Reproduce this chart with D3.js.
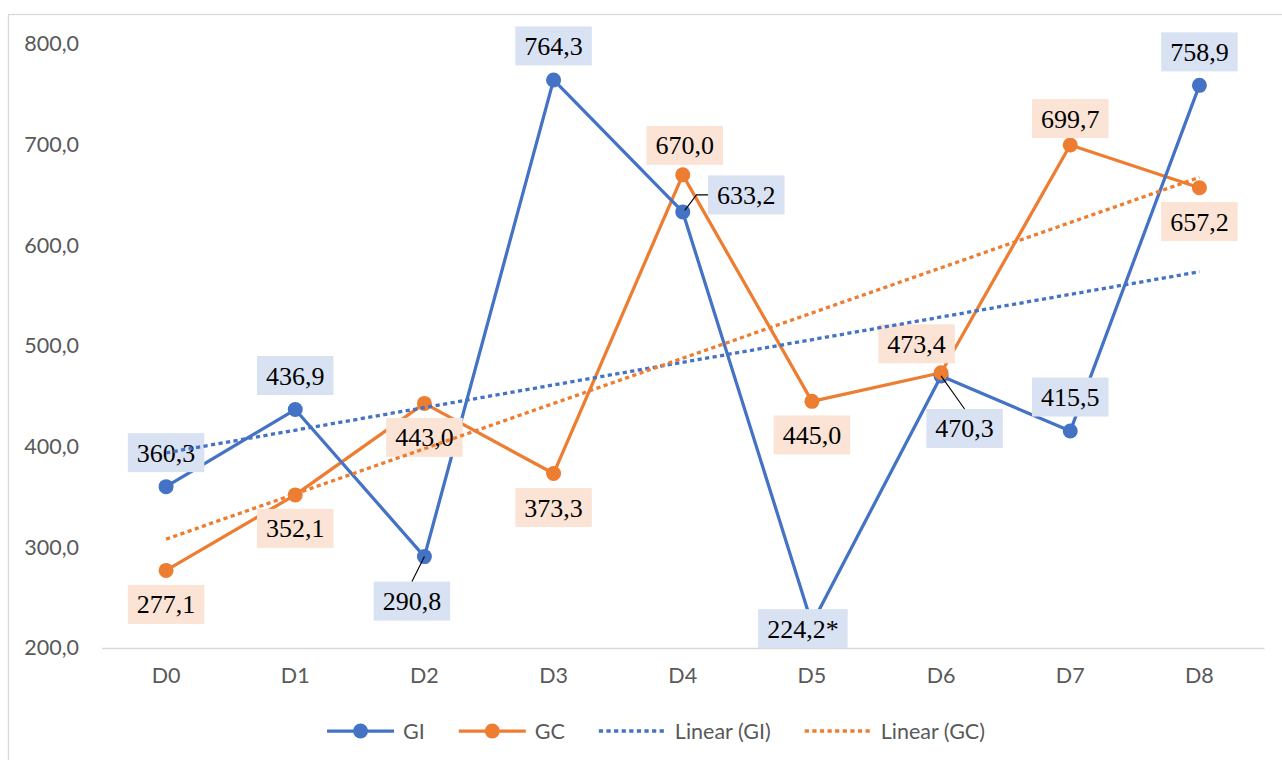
<!DOCTYPE html>
<html>
<head>
<meta charset="utf-8">
<script src="https://cdn.jsdelivr.net/npm/d3@7"></script>
<style>
  html, body { margin: 0; padding: 0; background: #ffffff; }
  svg { display: block; }
</style>
</head>
<body>
<svg id="chart" width="1282" height="760"></svg>
<script>
// Measurements per day
const categories = ["D0", "D1", "D2", "D3", "D4", "D5", "D6", "D7", "D8"];
const giValues = [360.3, 436.9, 290.8, 764.3, 633.2, 224.2, 470.3, 415.5, 758.9];
const gcValues = [277.1, 352.1, 443.0, 373.3, 670.0, 445.0, 473.4, 699.7, 657.2];
// Footnote marks appended to individual value labels
const giMarks = ["", "", "", "", "", "*", "", "", ""];
const gcMarks = ["", "", "", "", "", "", "", "", ""];
const yTicks = [200, 300, 400, 500, 600, 700, 800];
const seriesNames = ["GI", "GC"];

// Label placement relative to each point: [dx, dy] of the box centre, and leader style
const giLabelPlace = [
  [0, -34, null], [0, -34, null], [-12.5, 44.5, "top"], [0, -34, null], [63.5, -17, "elbow"],
  [-9, 5, null], [23.5, 52.6, "top"], [0, -34, null], [0, -33.5, null]
];
const gcLabelPlace = [
  [0, 34, null], [0, 33.5, null], [0, 34, null], [0, 34, null], [2, -29.5, null],
  [0, 33.6, null], [-24.5, -29, null], [0, -26.4, null], [0, 33.8, null]
];

const BLUE = "#4472C4", ORANGE = "#ED7D31";
const BLUE_BOX = "#D9E2F3", ORANGE_BOX = "#FBE4D5";
const AXIS_FONT = "Lato, 'Open Sans', sans-serif";
const LABEL_FONT = "'Liberation Serif', 'Times New Roman', serif";

const svg = d3.select("#chart");

// Chart area outline
svg.append("rect")
  .attr("x", 8.5).attr("y", 14.5)
  .attr("width", 1320).attr("height", 800)
  .attr("fill", "#ffffff").attr("stroke", "#D9D9D9").attr("stroke-width", 1.3);

const x = d3.scaleBand().domain(categories).range([101.5, 1264]).padding(0);
const y = d3.scaleLinear().domain([200, 800]).range([648, 44]);
const cx = d => x(d) + x.bandwidth() / 2;

// Decimal comma formatting
const locale = d3.formatLocale({ decimal: ",", thousands: ".", grouping: [3], currency: ["", ""] });
const fmt = locale.format(".1f");

// Y axis: labels only
const yAxis = d3.axisLeft(y).tickValues(yTicks).tickFormat(fmt).tickSize(0).tickPadding(0);
const yg = svg.append("g").attr("transform", "translate(79,0)").call(yAxis);
yg.select(".domain").remove();
yg.selectAll("text")
  .attr("font-family", AXIS_FONT).attr("font-size", 21.5).attr("fill", "#595959");

// X axis: baseline and category labels
const xAxis = d3.axisBottom(x).tickSize(0).tickPadding(20);
const xg = svg.append("g").attr("transform", "translate(0,648)").call(xAxis);
xg.select(".domain").attr("stroke", "#D9D9D9").attr("stroke-width", 1.5);
xg.selectAll("text")
  .attr("font-family", AXIS_FONT).attr("font-size", 21.5).attr("fill", "#595959");

const giPts = categories.map((c, i) => ({ c, v: giValues[i], m: giMarks[i], p: giLabelPlace[i] }));
const gcPts = categories.map((c, i) => ({ c, v: gcValues[i], m: gcMarks[i], p: gcLabelPlace[i] }));

const line = d3.line().x(d => cx(d.c)).y(d => y(d.v));

// Series lines
svg.append("path").datum(gcPts).attr("d", line)
  .attr("fill", "none").attr("stroke", ORANGE).attr("stroke-width", 3.25).attr("stroke-linejoin", "round");
svg.append("path").datum(giPts).attr("d", line)
  .attr("fill", "none").attr("stroke", BLUE).attr("stroke-width", 3.25).attr("stroke-linejoin", "round");

// Markers
function markers(pts, color) {
  svg.append("g").selectAll("circle").data(pts).join("circle")
    .attr("cx", d => cx(d.c)).attr("cy", d => y(d.v)).attr("r", 7.5)
    .attr("fill", color);
}
markers(giPts, BLUE);
markers(gcPts, ORANGE);

// Value labels in shaded boxes
function valueLabels(pts, boxColor) {
  const g = svg.append("g");
  pts.forEach(d => {
    const px = cx(d.c), py = y(d.v);
    const bx = px + d.p[0], by = py + d.p[1];
    const t = g.append("text")
      .attr("x", bx).attr("y", by + 9)
      .attr("text-anchor", "middle")
      .attr("font-family", LABEL_FONT).attr("font-size", 26).attr("fill", "#000000")
      .text(fmt(d.v) + d.m);
    const w = t.node().getComputedTextLength() + 18;
    const h = 39;
    g.insert("rect", "text")
      .attr("x", bx - w / 2).attr("y", by - h / 2)
      .attr("width", w).attr("height", h)
      .attr("fill", boxColor);
    d.box = { x: bx, y: by, w, h, px, py };
  });
}
valueLabels(giPts, BLUE_BOX);
valueLabels(gcPts, ORANGE_BOX);

// Leader lines from displaced labels back to their points
const leaders = svg.append("g");
giPts.concat(gcPts).forEach(d => {
  if (!d.p[2]) return;
  const b = d.box;
  let pts;
  if (d.p[2] === "top") {
    pts = [[b.px, b.py], [b.x, b.y - b.h / 2]];
  } else {
    const lx = b.x - b.w / 2;
    pts = [[lx, b.y], [lx - 11.5, b.y], [b.px + 2, b.py - 1.5]];
  }
  leaders.append("path").attr("d", d3.line()(pts))
    .attr("fill", "none").attr("stroke", "#000000").attr("stroke-width", 1.1);
});

// Least-squares linear trend for each series
function trend(values) {
  const n = values.length;
  const xs = values.map((_, i) => i);
  const mx = d3.mean(xs), my = d3.mean(values);
  const sxy = d3.sum(xs, (xi, i) => (xi - mx) * (values[i] - my));
  const sxx = d3.sum(xs, xi => (xi - mx) * (xi - mx));
  const b = sxy / sxx, a = my - b * mx;
  return [{ c: categories[0], v: a }, { c: categories[n - 1], v: a + b * (n - 1) }];
}
[[giValues, BLUE], [gcValues, ORANGE]].forEach(([vals, color]) => {
  svg.append("path").datum(trend(vals)).attr("d", line)
    .attr("fill", "none").attr("stroke", color).attr("stroke-width", 3.3)
    .attr("stroke-dasharray", "4.2 3.4");
});

// Legend
const legendItems = [
  { name: seriesNames[0], color: BLUE, dotted: false },
  { name: seriesNames[1], color: ORANGE, dotted: false },
  { name: "Linear (" + seriesNames[0] + ")", color: BLUE, dotted: true },
  { name: "Linear (" + seriesNames[1] + ")", color: ORANGE, dotted: true }
];
const legend = svg.append("g");
const sampleW = 67, sampleGap = 9, itemGap = 34, legendY = 731;
let cursor = 0;
const placed = [];
legendItems.forEach(item => {
  const g = legend.append("g");
  if (item.dotted) {
    g.append("line").attr("x1", 0).attr("x2", sampleW).attr("y1", 0).attr("y2", 0)
      .attr("stroke", item.color).attr("stroke-width", 3.3).attr("stroke-dasharray", "4.2 3.4");
  } else {
    g.append("line").attr("x1", 0).attr("x2", sampleW).attr("y1", 0).attr("y2", 0)
      .attr("stroke", item.color).attr("stroke-width", 3.25);
    g.append("circle").attr("cx", sampleW / 2).attr("cy", 0).attr("r", 7.5).attr("fill", item.color);
  }
  const t = g.append("text").attr("x", sampleW + sampleGap).attr("y", 0).attr("dy", "0.35em")
    .attr("font-family", AXIS_FONT).attr("font-size", 21.5).attr("fill", "#595959")
    .text(item.name);
  const w = sampleW + sampleGap + t.node().getComputedTextLength();
  placed.push({ g, offset: cursor });
  cursor += w + itemGap;
});
const totalW = cursor - itemGap;
const legendLeft = 656 - totalW / 2;
placed.forEach(p => p.g.attr("transform", `translate(${legendLeft + p.offset},${legendY})`));
</script>
</body>
</html>
